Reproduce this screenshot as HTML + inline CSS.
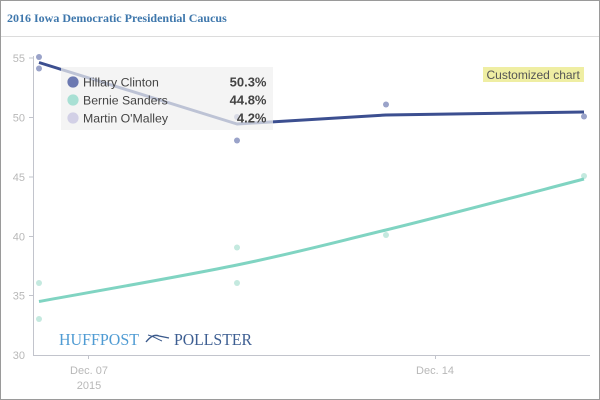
<!DOCTYPE html>
<html><head><meta charset="utf-8"><style>
html,body{margin:0;padding:0;background:#fff;}
.wrap{position:relative;width:600px;height:400px;box-sizing:border-box;border:1px solid #9a9a9a;overflow:hidden;}
svg{position:absolute;left:0;top:0;}
</style></head><body>
<div class="wrap">
<svg width="600" height="400" viewBox="0 0 600 400" xmlns="http://www.w3.org/2000/svg">
  <text x="6" y="21" font-family="Liberation Serif, serif" font-weight="bold" font-size="12" fill="#3e77ac">2016 Iowa Democratic Presidential Caucus</text>
  <line x1="0" y1="35.5" x2="600" y2="35.5" stroke="#dcdcdc" stroke-width="1"/>

  <!-- axes -->
  <line x1="32.5" y1="55" x2="32.5" y2="354" stroke="#c2c4cc" stroke-width="1"/>
  <line x1="32" y1="354.5" x2="589" y2="354.5" stroke="#c2c4cc" stroke-width="1"/>
  <g stroke="#c2c4cc" stroke-width="1">
    <line x1="28" y1="57" x2="32" y2="57"/>
    <line x1="28" y1="116.5" x2="32" y2="116.5"/>
    <line x1="28" y1="176" x2="32" y2="176"/>
    <line x1="28" y1="235.5" x2="32" y2="235.5"/>
    <line x1="28" y1="294.5" x2="32" y2="294.5"/>
    <line x1="87.5" y1="354" x2="87.5" y2="358"/>
    <line x1="434.5" y1="354" x2="434.5" y2="358"/>
  </g>
  <g font-family="Liberation Sans, sans-serif" font-size="11" fill="#b8b8b8" text-anchor="end">
    <text x="24" y="61">55</text>
    <text x="24" y="120.5">50</text>
    <text x="24" y="180">45</text>
    <text x="24" y="239.5">40</text>
    <text x="24" y="298.5">35</text>
    <text x="24" y="358">30</text>
  </g>
  <g font-family="Liberation Sans, sans-serif" font-size="11" fill="#b8b8b8" text-anchor="middle">
    <text x="88" y="373">Dec. 07</text>
    <text x="88" y="388">2015</text>
    <text x="434" y="373">Dec. 14</text>
  </g>

  <!-- logo -->
  <text x="58" y="344" font-family="Liberation Serif, serif" font-size="17" fill="#4f9bd3" textLength="80" lengthAdjust="spacingAndGlyphs">HUFFPOST</text>
  <path d="M145,341 C149,336 153,333 158,335 L168,337" stroke="#3b5a8c" stroke-width="1.4" fill="none"/>
  <path d="M147,334 C152,335 156,338 161,340" stroke="#3b5a8c" stroke-width="1" fill="none"/>
  <text x="173" y="344" font-family="Liberation Serif, serif" font-size="17" fill="#3d5e92" textLength="78" lengthAdjust="spacingAndGlyphs">POLLSTER</text>

  <!-- Customized chart -->
  <rect x="482" y="66" width="101" height="15" fill="#efeea3"/>
  <text x="485.5" y="78" font-family="Liberation Sans, sans-serif" font-size="12" fill="#555">Customized chart</text>

  <!-- Sanders dots -->
  <g fill="#c4e9df">
    <circle cx="38" cy="282" r="3"/>
    <circle cx="38" cy="318" r="3"/>
    <circle cx="236" cy="246.5" r="3"/>
    <circle cx="236" cy="282" r="3"/>
    <circle cx="385" cy="234" r="3"/>
    <circle cx="583" cy="175" r="3"/>
  </g>
  <!-- Clinton dots -->
  <g fill="#9aa3c9">
    <circle cx="38" cy="56" r="3"/>
    <circle cx="38" cy="67.5" r="3"/>
    <circle cx="236" cy="116" r="3"/>
    <circle cx="236" cy="139.5" r="3"/>
    <circle cx="385" cy="103.5" r="3"/>
    <circle cx="583" cy="115.5" r="3"/>
  </g>

  <!-- Sanders line -->
  <path d="M38,300.5 C71,294.4 178.2,275.9 236,264 C293.8,252.1 327.2,243 385,229 C442.8,215 550,186.5 583,178" stroke="#80d4c2" stroke-width="3" fill="none"/>
  <!-- Clinton line -->
  <polyline points="38,61.5 236,123 385,114 583,111" stroke="#3c4f90" stroke-width="3" fill="none" stroke-linejoin="round"/>

  <!-- legend -->
  <rect x="60" y="66" width="212" height="63" fill="#f0f0f0" fill-opacity="0.72"/>
  <circle cx="72" cy="81" r="5.6" fill="#6c79b1"/>
  <circle cx="72" cy="99" r="5.6" fill="#a8e0d4"/>
  <circle cx="72" cy="117" r="5.6" fill="#d2d0e6"/>
  <g font-family="Liberation Sans, sans-serif" font-size="12.3" fill="#444">
    <text x="82" y="85.5">Hillary Clinton</text>
    <text x="82" y="103.5">Bernie Sanders</text>
    <text x="82" y="121.5">Martin O'Malley</text>
  </g>
  <g font-family="Liberation Sans, sans-serif" font-size="13" font-weight="bold" fill="#444" text-anchor="end">
    <text x="265.5" y="85.5">50.3%</text>
    <text x="265.5" y="103.5">44.8%</text>
    <text x="265.5" y="121.5">4.2%</text>
  </g>
</svg>
</div>
</body></html>
